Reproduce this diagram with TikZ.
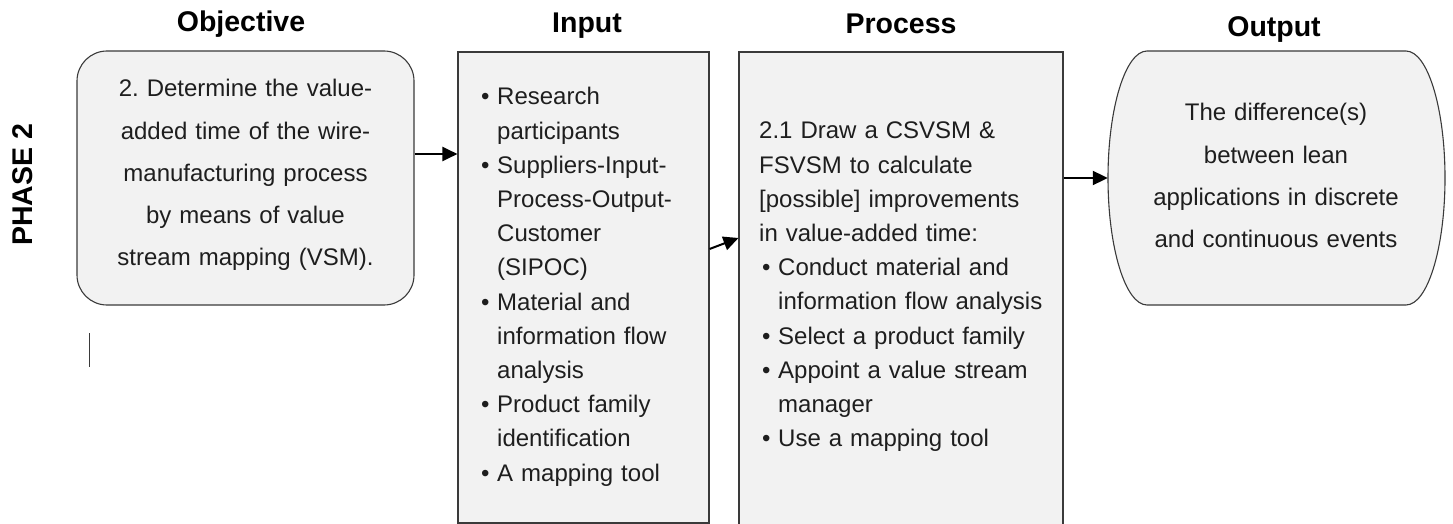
\documentclass[tikz,border=0pt]{standalone}
\usepackage{fontspec}
\setmainfont{Liberation Sans}
\usetikzlibrary{arrows.meta}
\frenchspacing

\definecolor{boxfill}{HTML}{F2F2F2}
\definecolor{boxline}{HTML}{3A3A3A}
\definecolor{ink}{HTML}{1E1E1E}

\tikzset{
  box/.style={draw=boxline, fill=boxfill, line width=1.1pt, inner sep=0pt},
  heading/.style={font=\fontsize{28.5}{30}\selectfont\bfseries, text=black, inner sep=0pt, anchor=base},
  bodytext/.style={text=ink, inner sep=0pt, anchor=base west},
  flow/.style={line width=2pt, draw=black, -{Triangle[length=15pt,width=14pt]}},
}

% bullet item helpers
\newcommand{\bitem}{\makebox[16pt][l]{•}}
\newcommand{\bcont}{\hspace*{16pt}}

\begin{document}
\begin{tikzpicture}[x=1pt, y=-1pt]
  \useasboundingbox (0,0) rectangle (1453,524);
  \clip (0,0) rectangle (1453,524);

  % column headings
  \node[heading] (hobj) at (241,32) {Objective};
  \node[heading] (hin)  at (587,33) {Input};
  \node[heading] (hpro) at (901,34) {Process};
  \node[heading] (hout) at (1274,37) {Output};

  % phase label
  \node[font=\fontsize{28.5}{30}\selectfont\bfseries, rotate=90, inner sep=0pt] (phase) at (23,185) {PHASE 2};

  % objective box
  \node[box, rounded corners=30pt, minimum width=337pt, minimum height=254pt] (obj) at (245.5,178) {};
  \node[bodytext, anchor=base, text width=320pt, align=center,
        font=\fontsize{24}{42.2}\selectfont] (objtxt) at (245.5,97)
    {2. Determine the value-\\added time of the wire-\\manufacturing process\\by means of value\\stream mapping (VSM).};

  % input box
  \node[box, minimum width=251pt, minimum height=471pt] (inp) at (583.5,287.5) {};
  \node[bodytext, text width=230pt, align=left,
        font=\fontsize{24}{34.2}\selectfont] (inptxt) at (481,105)
    {\bitem Research\\
     \bcont participants\\
     \bitem Suppliers-Input-\\
     \bcont Process-Output-\\
     \bcont Customer\\
     \bcont (SIPOC)\\
     \bitem Material and\\
     \bcont information flow\\
     \bcont analysis\\
     \bitem Product family\\
     \bcont identification\\
     \bitem A mapping tool};

  % process box (runs past the lower edge)
  \node[box, minimum width=324pt, minimum height=500pt] (proc) at (901,302) {};
  \node[bodytext, text width=300pt, align=left,
        font=\fontsize{24}{34.2}\selectfont] (proctxt) at (759,139)
    {2.1 Draw a CSVSM \&\\
     FSVSM to calculate\\
     {[}possible{]} improvements\\
     in value-added time:\\
     \hspace*{3pt}\bitem Conduct material and\\
     \hspace*{3pt}\bcont information flow analysis\\
     \hspace*{3pt}\bitem Select a product family\\
     \hspace*{3pt}\bitem Appoint a value stream\\
     \hspace*{3pt}\bcont manager\\
     \hspace*{3pt}\bitem Use a mapping tool};

  % output terminal shape
  \node[minimum width=337pt, minimum height=254pt, inner sep=0pt] (out) at (1276.5,178) {};
  \draw[box] (1147,51) -- (1406,51)
    .. controls (1427.5,51) and (1445,107.9) .. (1445,178)
    .. controls (1445,248.1) and (1427.5,305) .. (1406,305)
    -- (1147,305)
    .. controls (1125.5,305) and (1108,248.1) .. (1108,178)
    .. controls (1108,107.9) and (1125.5,51) .. (1147,51) -- cycle;
  \node[bodytext, anchor=base, text width=320pt, align=center,
        font=\fontsize{24}{42.2}\selectfont] (outtxt) at (1276,121)
    {The difference(s)\\between lean\\applications in discrete\\and continuous events};

  % connectors
  \draw[flow] (obj.east |- 0,154) -- (inp.west |- 0,154);
  \draw[flow] (inp.east |- 0,249) -- (proc.west |- 0,238);
  \draw[flow] (proc.east |- 0,178) -- (out.west);

  % short stroke under the phase label
  \draw[draw=boxline, line width=1pt] (89,333) -- (89,367);
\end{tikzpicture}
\end{document}
